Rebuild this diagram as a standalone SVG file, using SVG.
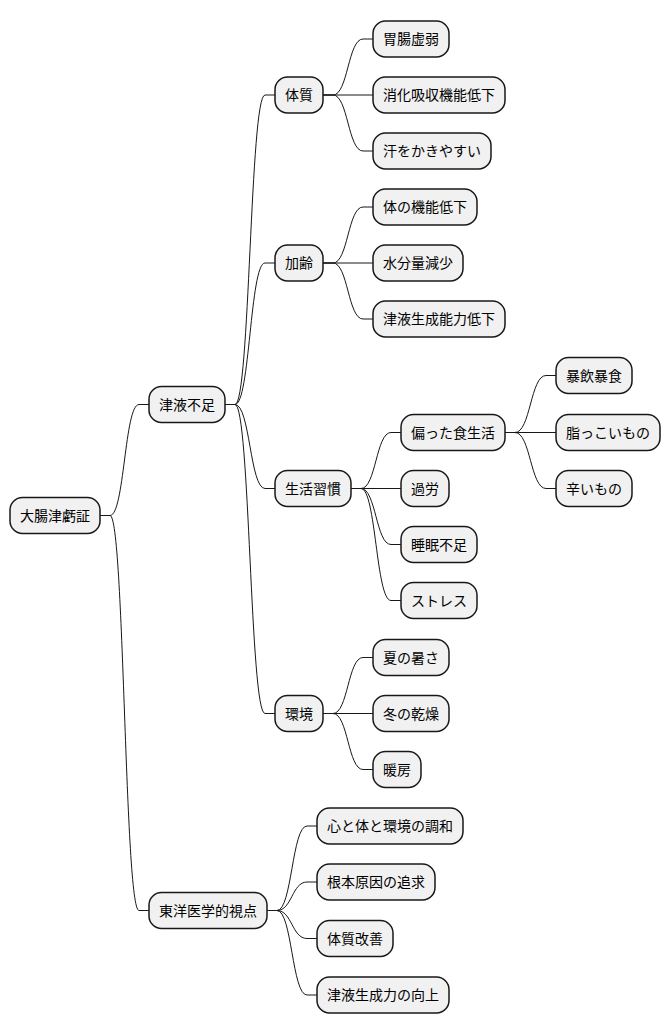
<svg xmlns="http://www.w3.org/2000/svg" width="670" height="1034" viewBox="0 0 670 1034">
<style>
.box{fill:#F1F1F1;stroke:#181818;stroke-width:1.5}
.t{font-family:"Noto Sans CJK JP","Noto Sans",sans-serif;font-size:14px;fill:#000000}
.e{fill:none;stroke:#181818;stroke-width:1}
</style>
<rect width="670" height="1034" fill="#FFFFFF"/>
<g id="connectors">
<path class="e" d="M100,515.5 L110,515.5 C124.5,515.5 124.5,404.5 139,404.5 L149,404.5"/>
<path class="e" d="M100,515.5 L110,515.5 C124.5,515.5 124.5,910.5 139,910.5 L149,910.5"/>
<path class="e" d="M225,404.5 L235,404.5 C250,404.5 250,95 265,95 L275,95"/>
<path class="e" d="M225,404.5 L235,404.5 C250,404.5 250,263 265,263 L275,263"/>
<path class="e" d="M225,404.5 L235,404.5 C250,404.5 250,488.5 265,488.5 L275,488.5"/>
<path class="e" d="M225,404.5 L235,404.5 C250,404.5 250,713.5 265,713.5 L275,713.5"/>
<path class="e" d="M323,95 L333,95 C348,95 348,39 363,39 L373,39"/>
<path class="e" d="M323,95 L373,95"/>
<path class="e" d="M323,95 L333,95 C348,95 348,151 363,151 L373,151"/>
<path class="e" d="M323,263 L333,263 C348,263 348,207 363,207 L373,207"/>
<path class="e" d="M323,263 L373,263"/>
<path class="e" d="M323,263 L333,263 C348,263 348,319 363,319 L373,319"/>
<path class="e" d="M351,488.5 L361,488.5 C376,488.5 376,432.5 391,432.5 L401,432.5"/>
<path class="e" d="M351,488.5 L401,488.5"/>
<path class="e" d="M351,488.5 L361,488.5 C376,488.5 376,544.5 391,544.5 L401,544.5"/>
<path class="e" d="M351,488.5 L361,488.5 C376,488.5 376,600.5 391,600.5 L401,600.5"/>
<path class="e" d="M505,432.5 L515,432.5 C530.5,432.5 530.5,375.5 546,375.5 L556,375.5"/>
<path class="e" d="M505,432.5 L556,432.5"/>
<path class="e" d="M505,432.5 L515,432.5 C530.5,432.5 530.5,488.5 546,488.5 L556,488.5"/>
<path class="e" d="M323,713.5 L333,713.5 C348,713.5 348,657.5 363,657.5 L373,657.5"/>
<path class="e" d="M323,713.5 L373,713.5"/>
<path class="e" d="M323,713.5 L333,713.5 C348,713.5 348,769.5 363,769.5 L373,769.5"/>
<path class="e" d="M267,910.5 L277,910.5 C292,910.5 292,826 307,826 L317,826"/>
<path class="e" d="M267,910.5 L277,910.5 C292,910.5 292,882 307,882 L317,882"/>
<path class="e" d="M267,910.5 L277,910.5 C292,910.5 292,938.5 307,938.5 L317,938.5"/>
<path class="e" d="M267,910.5 L277,910.5 C292,910.5 292,995 307,995 L317,995"/>
</g>
<g id="root"><rect class="box" x="10" y="497.5" width="90" height="36" rx="12.5"/><text class="t" x="20" y="520.5">大腸津虧証</text></g>
<g id="n-shinbusoku"><rect class="box" x="149" y="386.5" width="76" height="36" rx="12.5"/><text class="t" x="159" y="409.5">津液不足</text></g>
<g id="n-toyo"><rect class="box" x="149" y="892.5" width="118" height="36" rx="12.5"/><text class="t" x="159" y="915.5">東洋医学的視点</text></g>
<g id="n-taishitsu"><rect class="box" x="275" y="77" width="48" height="36" rx="12.5"/><text class="t" x="285" y="100">体質</text></g>
<g id="n-karei"><rect class="box" x="275" y="245" width="48" height="36" rx="12.5"/><text class="t" x="285" y="268">加齢</text></g>
<g id="n-seikatsu"><rect class="box" x="275" y="470.5" width="76" height="36" rx="12.5"/><text class="t" x="285" y="493.5">生活習慣</text></g>
<g id="n-kankyo"><rect class="box" x="275" y="695.5" width="48" height="36" rx="12.5"/><text class="t" x="285" y="718.5">環境</text></g>
<g id="n-ichou"><rect class="box" x="373" y="21" width="76" height="36" rx="12.5"/><text class="t" x="383" y="44">胃腸虚弱</text></g>
<g id="n-shouka"><rect class="box" x="373" y="77" width="132" height="36" rx="12.5"/><text class="t" x="383" y="100">消化吸収機能低下</text></g>
<g id="n-ase"><rect class="box" x="373" y="133" width="118" height="36" rx="12.5"/><text class="t" x="383" y="156">汗をかきやすい</text></g>
<g id="n-karada"><rect class="box" x="373" y="189" width="104" height="36" rx="12.5"/><text class="t" x="383" y="212">体の機能低下</text></g>
<g id="n-suibun"><rect class="box" x="373" y="245" width="90" height="36" rx="12.5"/><text class="t" x="383" y="268">水分量減少</text></g>
<g id="n-seisei"><rect class="box" x="373" y="301" width="132" height="36" rx="12.5"/><text class="t" x="383" y="324">津液生成能力低下</text></g>
<g id="n-katayotta"><rect class="box" x="401" y="414.5" width="104" height="36" rx="12.5"/><text class="t" x="411" y="437.5">偏った食生活</text></g>
<g id="n-karou"><rect class="box" x="401" y="470.5" width="48" height="36" rx="12.5"/><text class="t" x="411" y="493.5">過労</text></g>
<g id="n-suimin"><rect class="box" x="401" y="526.5" width="76" height="36" rx="12.5"/><text class="t" x="411" y="549.5">睡眠不足</text></g>
<g id="n-stress"><rect class="box" x="401" y="582.5" width="76" height="36" rx="12.5"/><text class="t" x="411" y="605.5">ストレス</text></g>
<g id="n-bouin"><rect class="box" x="556" y="357.5" width="76" height="36" rx="12.5"/><text class="t" x="566" y="380.5">暴飲暴食</text></g>
<g id="n-abura"><rect class="box" x="556" y="414.5" width="104" height="36" rx="12.5"/><text class="t" x="566" y="437.5">脂っこいもの</text></g>
<g id="n-karai"><rect class="box" x="556" y="470.5" width="76" height="36" rx="12.5"/><text class="t" x="566" y="493.5">辛いもの</text></g>
<g id="n-natsu"><rect class="box" x="373" y="639.5" width="76" height="36" rx="12.5"/><text class="t" x="383" y="662.5">夏の暑さ</text></g>
<g id="n-fuyu"><rect class="box" x="373" y="695.5" width="76" height="36" rx="12.5"/><text class="t" x="383" y="718.5">冬の乾燥</text></g>
<g id="n-danbou"><rect class="box" x="373" y="751.5" width="48" height="36" rx="12.5"/><text class="t" x="383" y="774.5">暖房</text></g>
<g id="n-kokoro"><rect class="box" x="317" y="808" width="146" height="36" rx="12.5"/><text class="t" x="327" y="831">心と体と環境の調和</text></g>
<g id="n-konpon"><rect class="box" x="317" y="864" width="118" height="36" rx="12.5"/><text class="t" x="327" y="887">根本原因の追求</text></g>
<g id="n-kaizen"><rect class="box" x="317" y="920.5" width="76" height="36" rx="12.5"/><text class="t" x="327" y="943.5">体質改善</text></g>
<g id="n-koujou"><rect class="box" x="317" y="977" width="132" height="36" rx="12.5"/><text class="t" x="327" y="1000">津液生成力の向上</text></g>
</svg>
